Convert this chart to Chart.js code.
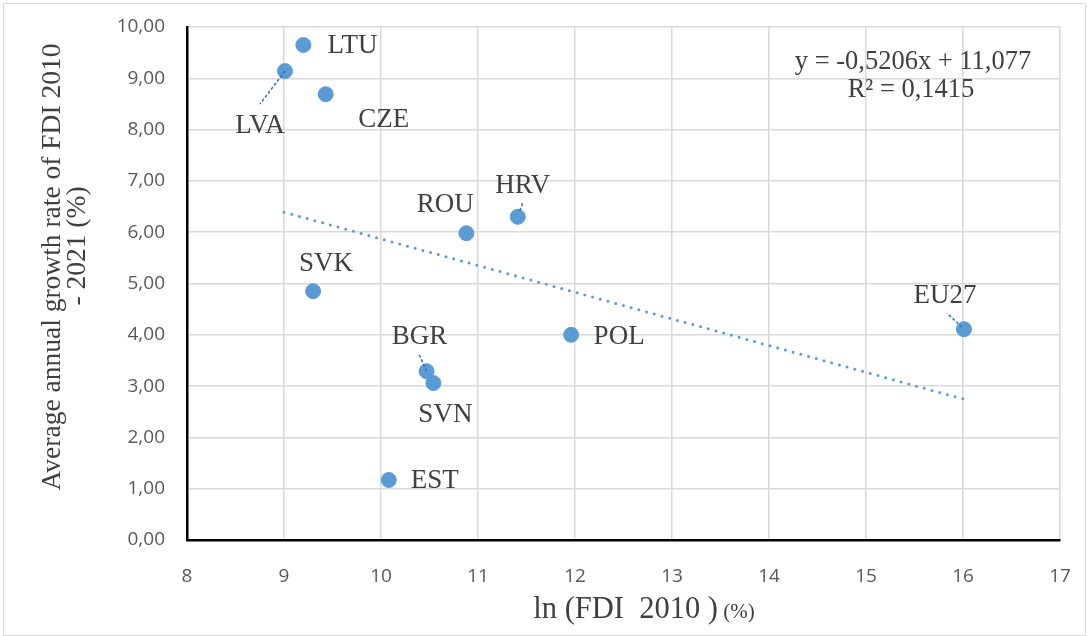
<!DOCTYPE html>
<html>
<head>
<meta charset="utf-8">
<script src="https://cdn.jsdelivr.net/npm/chart.js@4.4.1/dist/chart.umd.min.js"></script>
<style>
  html, body { margin: 0; padding: 0; background: #fff; }
  #wrap { width: 1089px; height: 636px; position: relative; }
</style>
</head>
<body>
<div id="wrap"><canvas id="chart"></canvas></div>
<script>
// Country data
var countries = ['LTU', 'LVA', 'CZE', 'HRV', 'ROU', 'SVK', 'POL', 'EU27', 'BGR', 'SVN', 'EST'];
var lnFdi2010 = [9.20, 9.01, 9.43, 11.41, 10.88, 9.30, 11.96, 16.01, 10.47, 10.54, 10.08];
var growthRate = [9.65, 9.14, 8.69, 6.30, 5.98, 4.85, 4.00, 4.11, 3.29, 3.06, 1.17];

// Linear trend line end points
var trendX = [9, 16];
var trendY = [6.39, 2.75];

var equationLines = ['y = -0,5206x + 11,077', 'R\u00B2 = 0,1415'];
var yTitleLines = ['Average annual growth rate of FDI 2010', '- 2021 (%)'];
var xTitleMain = 'ln (FDI  2010 )';
var xTitleUnit = ' (%)';

var BLUE = '#5B9BD5';
var LEADER = '#2E75B6';
var TEXT = '#404040';
var SERIF = '"Liberation Serif", "Times New Roman", serif';

// Label placement around each point (pixel offsets, centre of text)
var labelPlacement = {
  LTU:  { dx: 49, dy: 1 },
  LVA:  { dx: -25, dy: 55, leader: [[0, 0], [-25, 33]] },
  CZE:  { dx: 58, dy: 26 },
  HRV:  { dx: 5, dy: -31, leader: [[2, -6], [5, -14]] },
  ROU:  { dx: -21, dy: -28 },
  SVK:  { dx: 13, dy: -27 },
  POL:  { dx: 48, dy: 2 },
  EU27: { dx: -19, dy: -33, leader: [[-2, -2], [-17, -16]] },
  BGR:  { dx: -7, dy: -34, leader: [[0, 0], [-8, -18]] },
  SVN:  { dx: 12, dy: 32 },
  EST:  { dx: 46, dy: 1 }
};

function fmtComma(v) {
  return v.toFixed(2).replace('.', ',');
}

var points = lnFdi2010.map(function(x, i) {
  return { x: x, y: growthRate[i] };
});
var trend = trendX.map(function(x, i) {
  return { x: x, y: trendY[i] };
});

var decorPlugin = {
  id: 'decor',
  beforeDraw: function(chart) {
    var ctx = chart.ctx;
    ctx.save();
    ctx.strokeStyle = '#d9d9d9';
    ctx.lineWidth = 1;
    ctx.strokeRect(3.5, 3.5, chart.width - 7, chart.height - 4);
    ctx.restore();
  },
  afterDatasetsDraw: function(chart) {
    var ctx = chart.ctx;
    var meta = chart.getDatasetMeta(1);
    ctx.save();

    // leader lines
    ctx.strokeStyle = LEADER;
    ctx.lineWidth = 1.5;
    ctx.setLineDash([3, 2]);
    countries.forEach(function(name, i) {
      var p = labelPlacement[name];
      var el = meta.data[i];
      if (!p.leader) return;
      ctx.beginPath();
      ctx.moveTo(el.x + p.leader[0][0], el.y + p.leader[0][1]);
      ctx.lineTo(el.x + p.leader[1][0], el.y + p.leader[1][1]);
      ctx.stroke();
    });
    ctx.setLineDash([]);

    // country labels
    ctx.fillStyle = TEXT;
    ctx.font = '27px ' + SERIF;
    ctx.textAlign = 'center';
    ctx.textBaseline = 'middle';
    countries.forEach(function(name, i) {
      var p = labelPlacement[name];
      var el = meta.data[i];
      ctx.fillText(name, el.x + p.dx, el.y + p.dy);
    });

    // regression equation
    ctx.font = '26.5px ' + SERIF;
    ctx.fillText(equationLines[0], 913, 62);
    ctx.fillText(equationLines[1], 911, 90);

    // y axis title
    ctx.font = '27.5px ' + SERIF;
    ctx.save();
    ctx.translate(53, 267);
    ctx.rotate(-Math.PI / 2);
    ctx.fillText(yTitleLines[0], 0, 0);
    ctx.restore();
    ctx.save();
    ctx.translate(78, 246);
    ctx.rotate(-Math.PI / 2);
    ctx.fillText(yTitleLines[1], 0, 0);
    ctx.restore();

    // x axis title, unit in smaller type
    ctx.textAlign = 'left';
    ctx.textBaseline = 'alphabetic';
    ctx.font = '30.5px ' + SERIF;
    var w1 = ctx.measureText(xTitleMain).width;
    ctx.font = '21px ' + SERIF;
    var w2 = ctx.measureText(xTitleUnit).width;
    var x0 = 644 - (w1 + w2) / 2;
    ctx.font = '30.5px ' + SERIF;
    ctx.fillText(xTitleMain, x0, 618);
    ctx.font = '21px ' + SERIF;
    ctx.fillText(xTitleUnit, x0 + w1, 618);

    ctx.restore();
  }
};

var ctx = document.getElementById('chart').getContext('2d');
new Chart(ctx, {
  type: 'scatter',
  data: {
    datasets: [
      {
        label: 'Linear trend',
        data: trend,
        showLine: true,
        borderColor: BLUE,
        borderWidth: 3,
        borderDash: [0, 8],
        borderCapStyle: 'round',
        pointRadius: 0,
        fill: false
      },
      {
        label: 'Countries',
        data: points,
        backgroundColor: BLUE,
        borderColor: BLUE,
        pointRadius: 7.5,
        pointHoverRadius: 7.5
      }
    ]
  },
  options: {
    responsive: true,
    maintainAspectRatio: false,
    animation: false,
    events: [],
    layout: { padding: { top: 27, right: 29, left: 0, bottom: 0 } },
    plugins: {
      legend: { display: false },
      tooltip: { enabled: false }
    },
    scales: {
      x: {
        type: 'linear',
        min: 8, max: 17,
        ticks: {
          stepSize: 1,
          padding: 25,
          color: '#595959',
          font: { family: '"Open Sans", sans-serif', size: 19 }
        },
        grid: { color: '#d9d9d9', lineWidth: 1.5, drawTicks: false },
        border: { color: '#000', width: 2.5 },
        afterFit: function(scale) {
          scale.height = 96;
          scale.paddingLeft = 0;
          scale.paddingRight = 0;
        }
      },
      y: {
        type: 'linear',
        min: 0, max: 10,
        ticks: {
          stepSize: 1,
          padding: 22,
          color: '#595959',
          font: { family: '"Open Sans", sans-serif', size: 19 },
          callback: function(v) { return fmtComma(v); }
        },
        grid: { color: '#d9d9d9', lineWidth: 1.5, drawTicks: false },
        border: { color: '#000', width: 2.5 },
        afterFit: function(scale) {
          scale.width = 187;
          scale.paddingTop = 0;
          scale.paddingBottom = 0;
        }
      }
    }
  },
  plugins: [decorPlugin]
});
</script>
</body>
</html>
